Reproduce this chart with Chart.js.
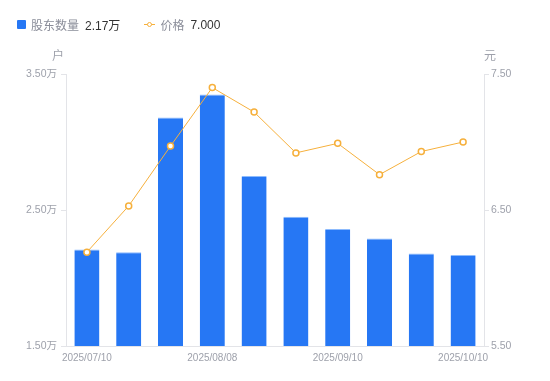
<!DOCTYPE html>
<html>
<head>
<meta charset="utf-8">
<script src="https://cdn.jsdelivr.net/npm/chart.js@4/dist/chart.umd.min.js"></script>
<style>
    html, body { margin: 0; padding: 0; background: #fff; }
    #wrap { position: relative; width: 550px; height: 381px; font-family: 'Liberation Sans', 'Noto Sans CJK SC', sans-serif; }
    #chart_canvas { position: absolute; left: 0; top: 0; }
    .legend { position: absolute; top: 16px; left: 17px; font-size: 12px; color: #8a8d99; display: flex; align-items: center; }
    .legend .item { display: flex; align-items: center; margin-right: 24px; }
    .legend .box { width: 9px; height: 9px; background: #2677f4; border-radius: 1px; margin-right: 5px; }
    .legend .mark { position: relative; width: 11px; height: 9px; margin-right: 5px; }
    .legend .mark:before { content: ''; position: absolute; left: 0; right: 0; top: 4px; height: 1px; background: #f6b03c; }
    .legend .mark:after { content: ''; position: absolute; left: 3px; top: 1.5px; width: 3px; height: 3px; border: 1.5px solid #f6b03c; border-radius: 50%; background: #fff; }
    .legend .val { color: #333; margin-left: 6px; }
</style>
</head>
<body>
<div id="wrap">
    <canvas id="chart_canvas" width="550" height="381"></canvas>
    <div class="legend">
        <div class="item"><span class="box"></span>股东数量<span class="val">2.17万</span></div>
        <div class="item"><span class="mark"></span>价格<span class="val">7.000</span></div>
    </div>
</div>
<script>
const DATES = ['2025/07/10', '2025/07/20', '2025/07/31', '2025/08/08', '2025/08/20',
    '2025/08/31', '2025/09/10', '2025/09/19', '2025/09/30', '2025/10/10'];
const HOLDERS = [2.21, 2.19, 3.18, 3.35, 2.75, 2.45, 2.36, 2.29, 2.18, 2.17];
const PRICES = [6.19, 6.53, 6.97, 7.40, 7.22, 6.92, 6.99, 6.76, 6.93, 7.00];
const HOLDER_TICKS = [1.5, 2.5, 3.5];
const PRICE_TICKS = [5.5, 6.5, 7.5];

const BLUE = '#2677f4';
const ORANGE = '#f6b03c';
const AXIS_GREY = '#e3e4e8';
const TEXT_GREY = '#9ea1ab';

const axis_titles_plugin = {
    id: 'axis_titles',
    afterDraw: (chart) => {
        const ctx = chart.ctx;
        ctx.save();
        ctx.font = "12px 'Liberation Sans', 'Noto Sans CJK SC', sans-serif";
        ctx.fillStyle = TEXT_GREY;
        ctx.textAlign = 'center';
        ctx.textBaseline = 'middle';
        ctx.fillText('户', chart.chartArea.left - 8, 57);
        ctx.fillText('元', chart.chartArea.right + 6, 57);
        ctx.restore();
    }
};

const font_family = "'Liberation Sans', 'Noto Sans CJK SC', sans-serif";

new Chart(document.getElementById('chart_canvas').getContext('2d'), {
    data: {
        labels: DATES,
        datasets: [
            {
                type: 'line',
                label: '价格',
                data: PRICES,
                yAxisID: 'y_price',
                borderColor: ORANGE,
                borderWidth: 1,
                pointRadius: 3,
                pointBorderWidth: 1.5,
                pointBackgroundColor: '#fff',
                pointBorderColor: ORANGE,
                tension: 0,
                order: 0
            },
            {
                type: 'bar',
                label: '股东数量',
                data: HOLDERS,
                yAxisID: 'y_holders',
                backgroundColor: BLUE,
                borderColor: '#8dbbfd',
                borderWidth: { top: 1, left: 0, right: 0, bottom: 0 },
                barPercentage: 0.6,
                categoryPercentage: 1,
                order: 1
            }
        ]
    },
    options: {
        animation: false,
        responsive: false,
        layout: { padding: { top: 74, left: 0, right: 0, bottom: 0 } },
        plugins: {
            legend: { display: false },
            tooltip: { enabled: false }
        },
        scales: {
            x: {
                offset: true,
                grid: { display: true, drawOnChartArea: false, drawTicks: false, color: AXIS_GREY },
                border: { display: true, color: AXIS_GREY },
                ticks: {
                    autoSkip: false,
                    maxRotation: 0,
                    padding: 6,
                    color: TEXT_GREY,
                    font: { size: 10, family: font_family },
                    callback: function (value, index) {
                        return index % 3 === 0 ? DATES[index] : '';
                    }
                },
                afterFit: (scale) => { scale.height = 35; }
            },
            y_holders: {
                position: 'left',
                min: 1.5,
                max: 3.5,
                afterBuildTicks: (scale) => { scale.ticks = HOLDER_TICKS.map(v => ({ value: v })); },
                grid: { drawOnChartArea: false, tickLength: 5, color: AXIS_GREY },
                border: { display: true, color: AXIS_GREY },
                ticks: {
                    padding: 4,
                    color: TEXT_GREY,
                    font: { size: 10.5, family: font_family },
                    callback: (v) => v.toFixed(2) + '万'
                },
                afterFit: (scale) => { scale.width = 66; }
            },
            y_price: {
                position: 'right',
                min: 5.5,
                max: 7.5,
                afterBuildTicks: (scale) => { scale.ticks = PRICE_TICKS.map(v => ({ value: v })); },
                grid: { drawOnChartArea: false, tickLength: 5, color: AXIS_GREY },
                border: { display: true, color: AXIS_GREY },
                ticks: {
                    padding: 2,
                    color: TEXT_GREY,
                    font: { size: 10.5, family: font_family },
                    callback: (v) => v.toFixed(2)
                },
                afterFit: (scale) => { scale.width = 66; }
            }
        }
    },
    plugins: [axis_titles_plugin]
});
</script>
</body>
</html>
